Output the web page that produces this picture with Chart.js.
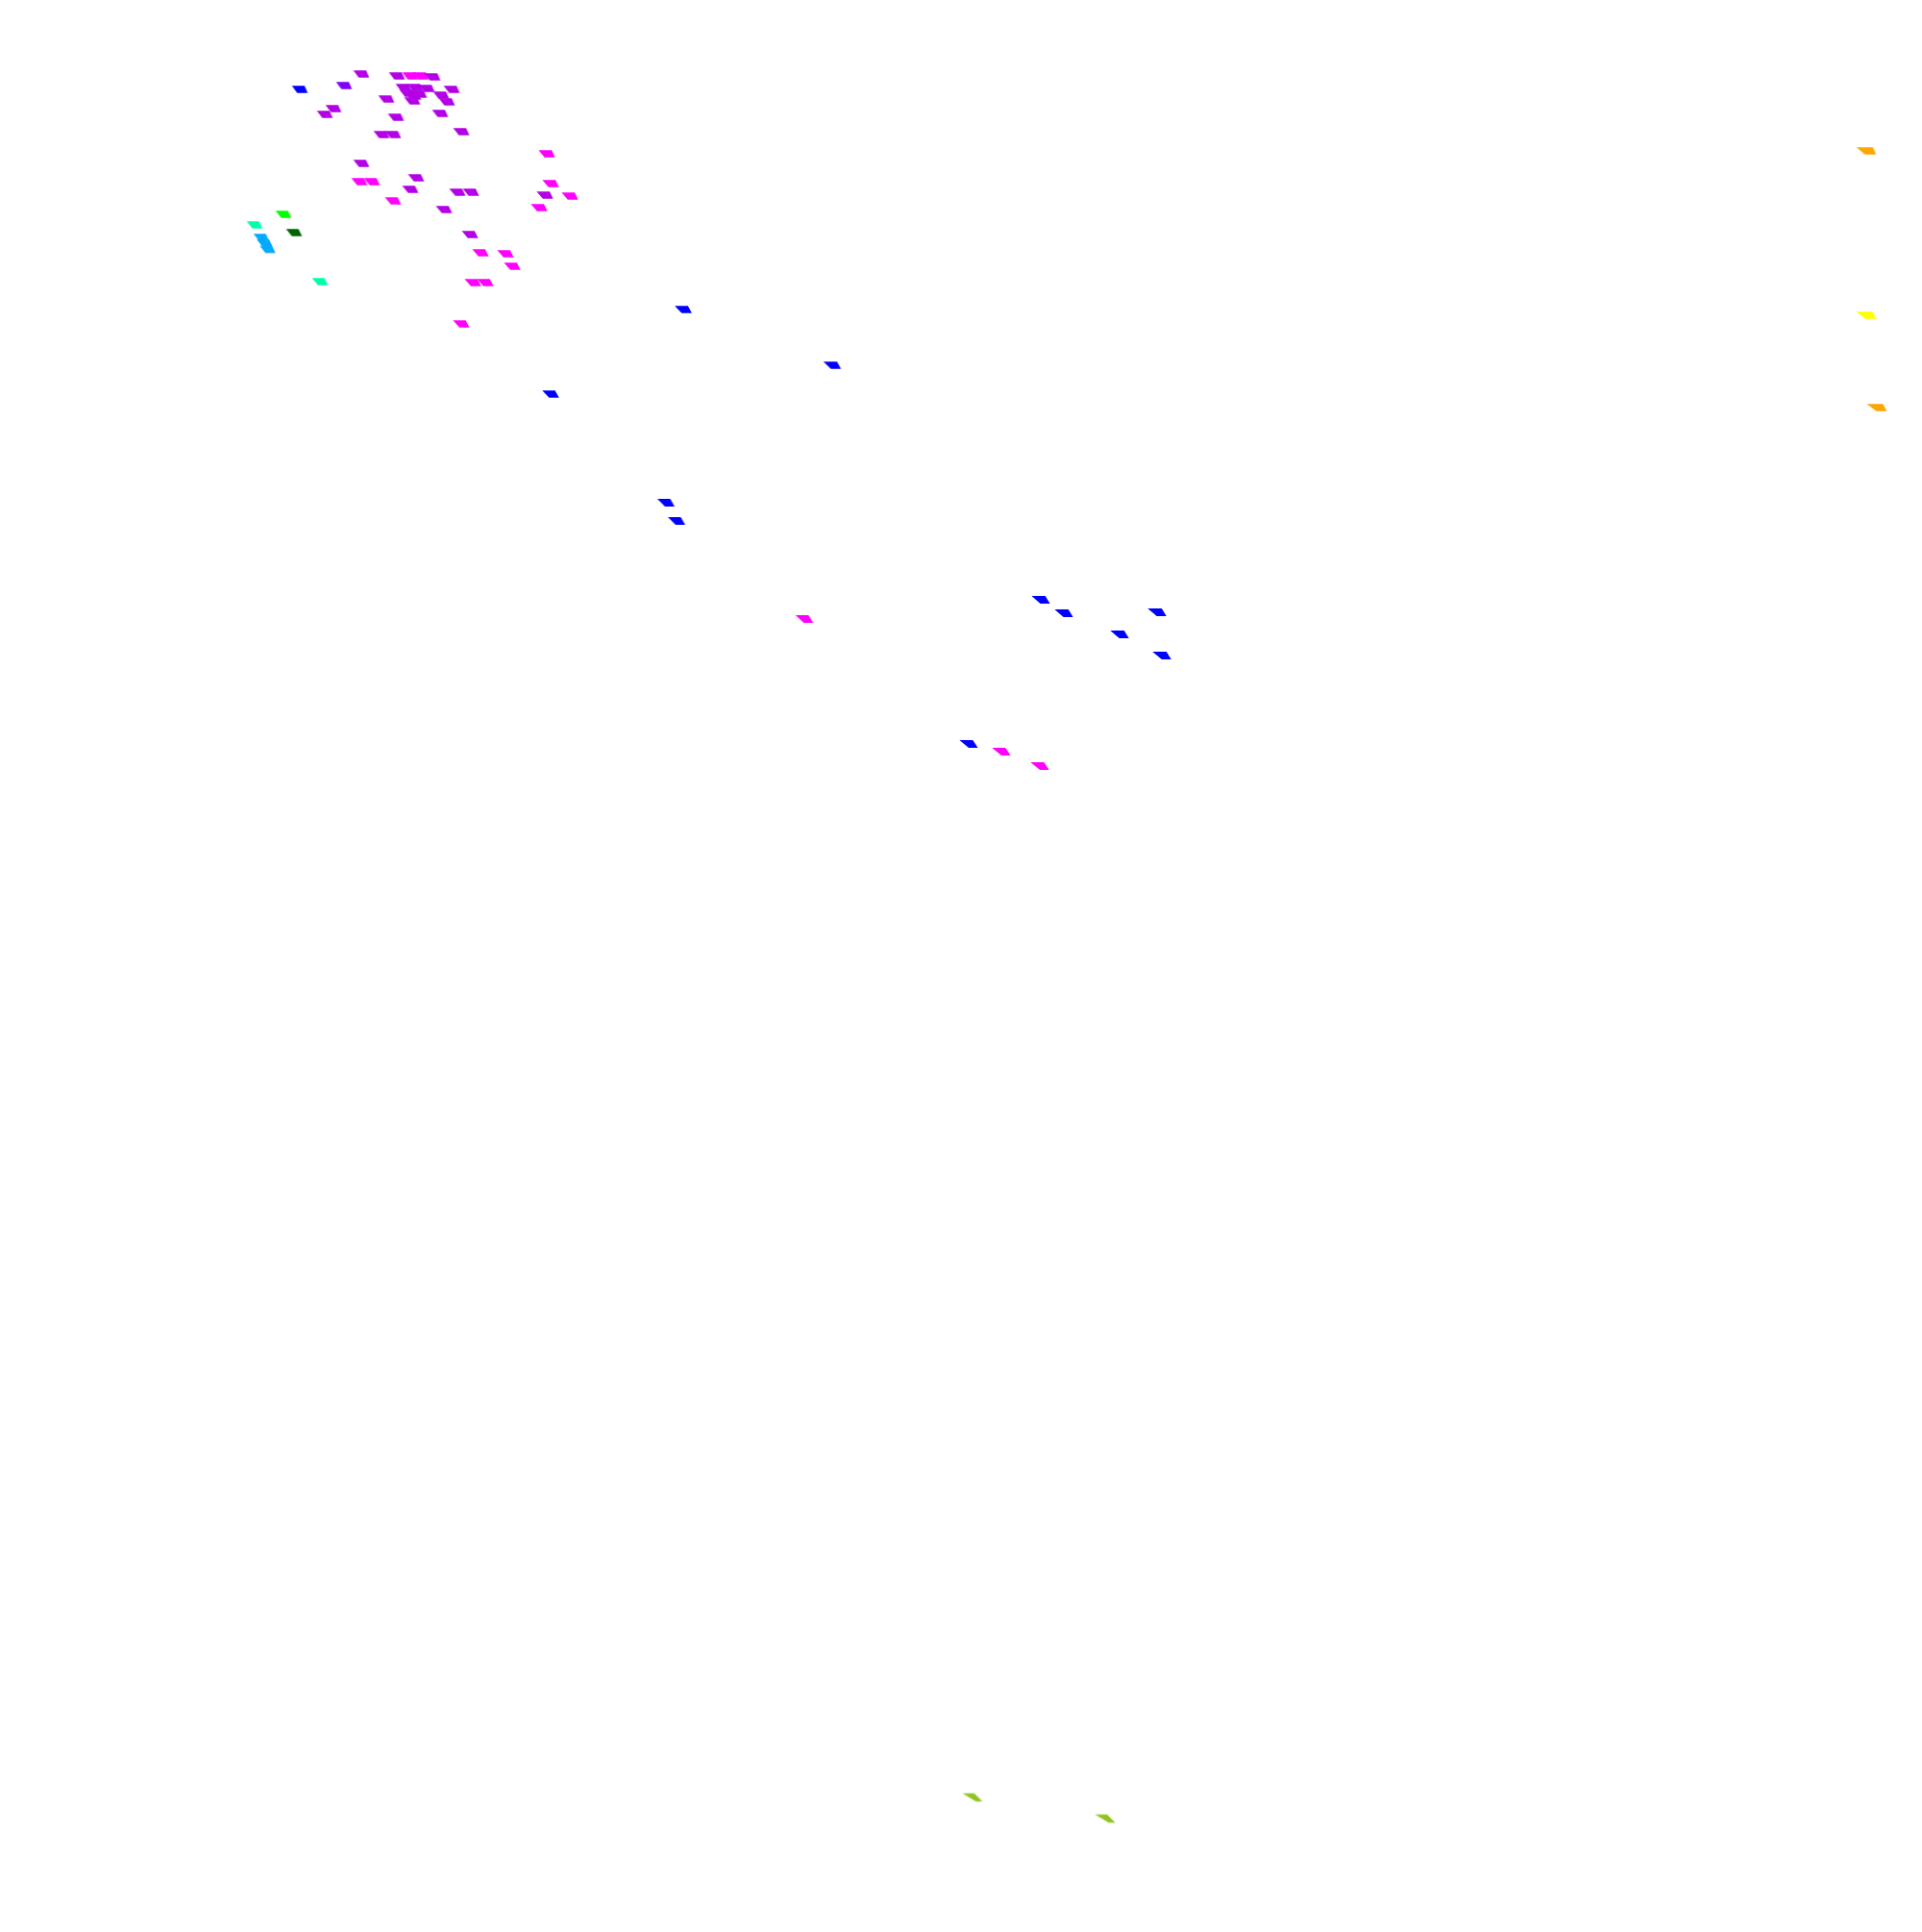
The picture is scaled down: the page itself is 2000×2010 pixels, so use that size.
<!DOCTYPE html>
<html>
<head>
<meta charset="utf-8">
<title>Tiles</title>
<script src="https://cdn.jsdelivr.net/npm/chart.js@4"></script>
<style>
  html, body { margin: 0; padding: 0; background: #ffffff; }
  #tiles { display: block; }
</style>
</head>
<body>
<canvas id="tiles" width="2000" height="2010"></canvas>
<script>
// Series values ([x, y] pairs, x 0-200, y 0-201 from the top)

const purplePts = [
  [37.6, 7.7], [41.3, 7.9], [45.0, 8.0], [42.0, 9.1], [43.2, 9.1], [44.4, 9.2],
  [42.4, 9.7], [43.6, 9.8], [43.0, 10.0], [42.9, 10.5], [45.9, 9.9], [46.5, 10.6],
  [47.0, 9.3], [34.7, 11.3], [33.8, 11.9], [40.2, 10.3], [41.2, 12.2], [39.7, 14.0],
  [40.9, 14.0], [45.8, 11.8], [48.0, 13.7], [37.6, 17.0], [43.3, 18.5], [42.7, 19.7],
  [47.6, 20.0], [49.0, 20.0], [46.2, 21.8], [48.9, 24.4], [56.7, 20.3]
];
const magentaPts = [
  [42.7, 7.9], [43.8, 7.9], [37.4, 18.9], [38.7, 18.9], [40.9, 20.9], [56.9, 16.0],
  [57.3, 19.1], [59.3, 20.4], [56.1, 21.6], [50.0, 26.3], [52.6, 26.4], [53.3, 27.7],
  [49.2, 29.4], [50.5, 29.4], [48.0, 33.7], [83.7, 64.4], [104.2, 78.2], [108.2, 79.7]
];
const bluePts = [
  [31.2, 9.3], [71.1, 32.2], [86.6, 38.0], [57.3, 41.0], [69.3, 52.3], [70.4, 54.2],
  [108.3, 62.4], [110.7, 63.8], [120.4, 63.7], [116.5, 66.0], [120.9, 68.2], [100.8, 77.4]
];
const violetPts = [[35.8, 8.9]];
const greenPts = [[29.5, 22.3]];
const darkGreenPts = [[30.6, 24.2]];
const aquaPts = [[26.5, 23.4], [33.3, 29.3]];
const skyPts = [[27.2, 24.7], [27.55, 25.3], [27.85, 25.95]];
const orangePts = [[194.2, 15.7], [195.3, 42.4]];
const yellowPts = [[194.2, 32.8]];
const olivePts = [[101.2, 187.0], [115.0, 189.2]];

const seriesNames = ['purple', 'blue', 'violet', 'green', 'dark green', 'aqua', 'sky',
  'magenta', 'orange', 'yellow', 'olive'];
const seriesPts = [purplePts, bluePts, violetPts, greenPts, darkGreenPts, aquaPts, skyPts,
  magentaPts, orangePts, yellowPts, olivePts];
const seriesColors = ['#b300e6', '#0000ff', '#7f00ff', '#00ff00', '#006400', '#00ffaa', '#00aaff',
  '#ff00ff', '#ffa500', '#ffff00', '#8fc31f'];

// Tile shape: a slanted quad that gets wider and more skewed away from the top left
const makeTile = (color, px, py) => {
  const fx = px / 2000;
  const fy = py / 2010;
  const w = 12.5 + 5 * fx - 3 * fy;
  const sl = 4.5 + 4 * fx + 8 * fy;
  const sr = 3 + 6 * fy;
  const h = 7.5 + fy;
  const span = Math.max(w, w + sr);
  const c = document.createElement('canvas');
  c.width = Math.ceil(span) + 2;
  c.height = Math.ceil(h) + 2;
  const g = c.getContext('2d');
  const ox = (c.width - span) / 2;
  const oy = (c.height - h) / 2;
  g.fillStyle = color;
  g.beginPath();
  g.moveTo(ox, oy);
  g.lineTo(ox + w, oy);
  g.lineTo(ox + w + sr, oy + h);
  g.lineTo(ox + sl, oy + h);
  g.closePath();
  g.fill();
  return c;
};

const datasets = seriesPts.map((pts, i) => ({
  label: seriesNames[i],
  data: pts.map((p) => ({ x: p[0], y: p[1] })),
  pointRadius: 5,
  pointHoverRadius: 5,
  backgroundColor: seriesColors[i],
  pointStyle: (ctx) => {
    const chart = ctx.chart;
    if (!chart.scales.x || !ctx.parsed) return 'rect';
    const px = chart.scales.x.getPixelForValue(ctx.parsed.x);
    const py = chart.scales.y.getPixelForValue(ctx.parsed.y);
    return makeTile(seriesColors[i], px, py);
  }
}));

new Chart(document.getElementById('tiles'), {
  type: 'scatter',
  data: { datasets },
  options: {
    responsive: false,
    animation: false,
    events: [],
    layout: { padding: 0, autoPadding: false },
    plugins: { legend: { display: false }, tooltip: { enabled: false } },
    scales: {
      x: { type: 'linear', min: 0, max: 200, display: false },
      y: { type: 'linear', min: 0, max: 201, reverse: true, display: false }
    }
  }
});
</script>
</body>
</html>
